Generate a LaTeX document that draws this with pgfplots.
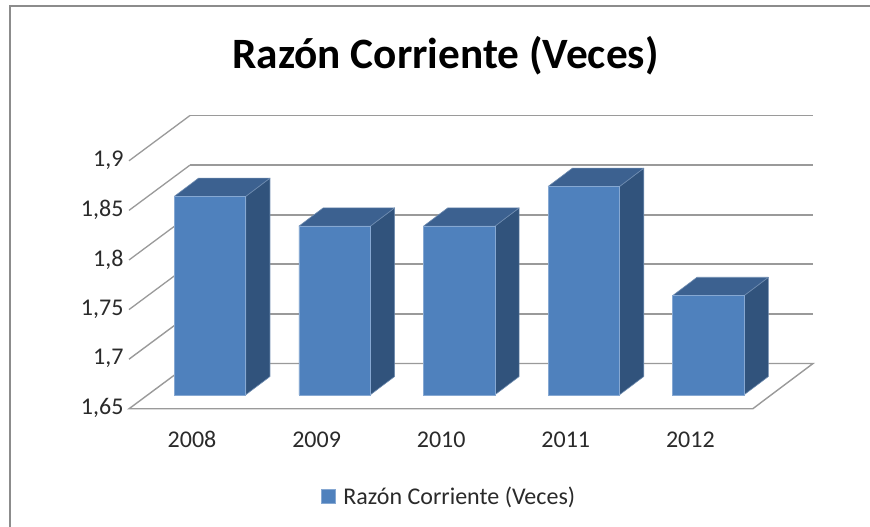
\documentclass[border=0pt]{standalone}
\usepackage{fontspec}
\setmainfont{Carlito}
\usepackage{pgfplots}
\pgfplotsset{compat=1.18}
\definecolor{front}{HTML}{4F81BD}
\definecolor{frontedge}{HTML}{86A8D2}
\definecolor{sideedge}{HTML}{6F8CB0}
\definecolor{side}{HTML}{31537C}
\definecolor{topf}{HTML}{3C6190}
\definecolor{gridc}{HTML}{9A9A9A}
\definecolor{framec}{HTML}{8C8C8C}
\definecolor{textc}{HTML}{2A2A2A}
\pgfplotsset{
  face/.style={draw=sideedge,line width=0.6pt,line join=round,forget plot,mark=none},
  wall/.style={draw=gridc,line width=1.7pt,mark=none,forget plot,line join=miter}
}
\begin{document}
\begin{tikzpicture}[x=1pt,y=1pt]
\useasboundingbox (0,0) rectangle (870,527);
\fill[white] (0,0) rectangle (870,527);
\draw[framec,line width=2pt] (9.5,0) -- (9.5,521) -- (870,521);
\node[text=black,font=\fontsize{43.3}{48}\selectfont\bfseries,anchor=center] at (445.5,471) {Razón Corriente (Veces)};
\begin{axis}[
  at={(129pt,132.2pt)},anchor=south west,
  scale only axis,width=684pt,height=248pt,
  xmin=-0.6501,xmax=4.8395,ymin=1.65,ymax=1.9,
  clip=false,
  axis line style={draw=none},
  tick style={draw=none},
  xtick={0,1,2,3,4},
  xticklabels={2008,2009,2010,2011,2012},
  ytick={1.65,1.7,1.75,1.8,1.85,1.9},
  yticklabels={{1,65},{1,7},{1,75},{1,8},{1,85},{1,9}},
  ticklabel style={font=\fontsize{24}{28}\selectfont,text=textc},
  xticklabel style={anchor=center,xshift=-18pt,yshift=-44.5pt},
  yticklabel style={anchor=east,xshift=-2pt,yshift=-13.5pt},
  legend style={at={(0.468,-0.41)},anchor=center,draw=none,fill=none,
    font=\fontsize{24}{28}\selectfont,text=textc,inner sep=0pt,
    /tikz/every odd column/.append style={column sep=6pt}},
  legend image code/.code={\fill[front,draw=frontedge,line width=0.4pt] (0pt,-7pt) rectangle (14pt,7pt);},
]
% walls and floor
\addplot[wall,line width=1.4pt] coordinates {(-0.1605,1.68155) (4.8395,1.68155) (4.3555,1.63589) (-0.6501,1.63589) (-0.1605,1.68155)};
\addplot[wall,line width=1.4pt] coordinates {(-0.6501,1.68589) (-0.1605,1.73155)};
\addplot[wall] coordinates {(-0.1605,1.73155) (4.8395,1.73155)};
\addplot[wall,line width=1.3pt] coordinates {(-0.6501,1.73589) (-0.1605,1.78155)};
\addplot[wall] coordinates {(-0.1605,1.78155) (4.8395,1.78155)};
\addplot[wall,line width=1.3pt] coordinates {(-0.6501,1.78589) (-0.1605,1.83155)};
\addplot[wall] coordinates {(-0.1605,1.83155) (4.8395,1.83155)};
\addplot[wall,line width=1.3pt] coordinates {(-0.6501,1.83589) (-0.1605,1.88155)};
\addplot[wall] coordinates {(-0.1605,1.88155) (4.8395,1.88155)};
\addplot[wall,line width=1.3pt] coordinates {(-0.6501,1.88589) (-0.1605,1.93155)};
\addplot[wall] coordinates {(-0.1605,1.93155) (4.8395,1.93155)};
% side faces
\addplot[face,fill=side] coordinates {(0.2865,1.65) (0.4815,1.66845) (0.4815,1.86845) (0.2865,1.85) (0.2865,1.65)};
\addplot[face,fill=side] coordinates {(1.2865,1.65) (1.4815,1.66845) (1.4815,1.83845) (1.2865,1.82) (1.2865,1.65)};
\addplot[face,fill=side] coordinates {(2.2865,1.65) (2.4815,1.66845) (2.4815,1.83845) (2.2865,1.82) (2.2865,1.65)};
\addplot[face,fill=side] coordinates {(3.2865,1.65) (3.4815,1.66845) (3.4815,1.87845) (3.2865,1.86) (3.2865,1.65)};
\addplot[face,fill=side] coordinates {(4.2865,1.65) (4.4815,1.66845) (4.4815,1.76845) (4.2865,1.75) (4.2865,1.65)};
% top faces
\addplot[face,fill=topf] coordinates {(-0.2865,1.85) (0.2865,1.85) (0.4815,1.86845) (-0.0915,1.86845) (-0.2865,1.85)};
\addplot[face,fill=topf] coordinates {(0.7135,1.82) (1.2865,1.82) (1.4815,1.83845) (0.9085,1.83845) (0.7135,1.82)};
\addplot[face,fill=topf] coordinates {(1.7135,1.82) (2.2865,1.82) (2.4815,1.83845) (1.9085,1.83845) (1.7135,1.82)};
\addplot[face,fill=topf] coordinates {(2.7135,1.86) (3.2865,1.86) (3.4815,1.87845) (2.9085,1.87845) (2.7135,1.86)};
\addplot[face,fill=topf] coordinates {(3.7135,1.75) (4.2865,1.75) (4.4815,1.76845) (3.9085,1.76845) (3.7135,1.75)};
% front faces
\addplot[ybar,bar width=0.573,bar shift=0pt,fill=front,draw=frontedge,line width=0.5pt,mark=none] coordinates {(0,1.85) (1,1.82) (2,1.82) (3,1.86) (4,1.75)};
\addlegendentry{Razón Corriente (Veces)}
\end{axis}
\end{tikzpicture}
\end{document}
